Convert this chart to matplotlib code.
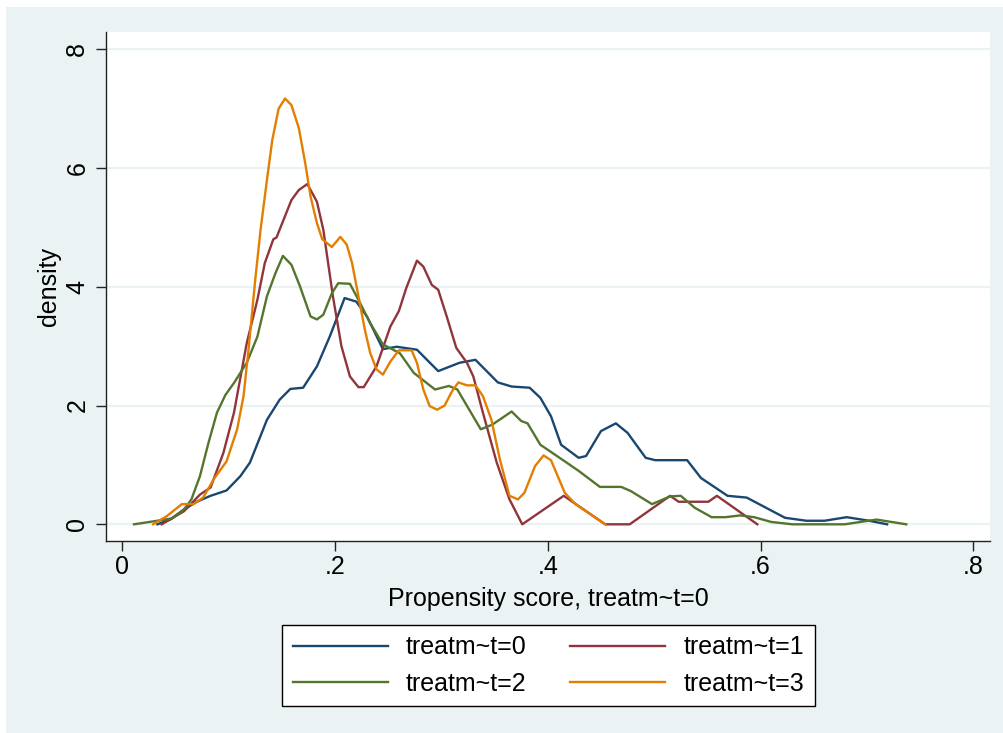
import matplotlib
matplotlib.use("Agg")
import matplotlib.pyplot as plt
from matplotlib.patches import Rectangle

# ---- data ----
x0 = [0.033,0.045,0.058,0.070,0.083,0.098,0.111,0.120,0.136,0.148,0.158,0.170,0.183,0.195,0.209,0.220,0.230,0.245,0.258,0.277,0.297,0.317,0.332,0.353,0.366,0.383,0.393,0.403,0.4125,0.429,0.436,0.450,0.464,0.475,0.492,0.501,0.531,0.544,0.569,0.587,0.623,0.643,0.660,0.681,0.702,0.719]
y0 = [0.0,0.08,0.25,0.38,0.48,0.57,0.81,1.04,1.76,2.10,2.28,2.30,2.66,3.16,3.81,3.75,3.50,2.95,2.99,2.94,2.58,2.72,2.77,2.39,2.32,2.30,2.13,1.82,1.34,1.12,1.15,1.57,1.70,1.54,1.12,1.08,1.08,0.78,0.48,0.45,0.11,0.06,0.06,0.12,0.06,0.0]

x1 = [0.037,0.058,0.073,0.083,0.095,0.105,0.117,0.127,0.134,0.142,0.145,0.159,0.166,0.174,0.183,0.189,0.198,0.206,0.214,0.222,0.227,0.239,0.252,0.260,0.267,0.277,0.283,0.291,0.297,0.305,0.314,0.324,0.330,0.339,0.352,0.364,0.376,0.415,0.454,0.477,0.515,0.523,0.551,0.559,0.597]
y1 = [0.0,0.22,0.50,0.62,1.20,1.88,3.05,3.78,4.40,4.80,4.83,5.46,5.63,5.73,5.43,4.96,3.84,3.00,2.49,2.31,2.31,2.66,3.33,3.59,3.98,4.44,4.34,4.03,3.95,3.50,2.97,2.72,2.49,1.88,1.04,0.42,0.0,0.48,0.0,0.0,0.48,0.38,0.38,0.48,0.0]

x2 = [0.011,0.033,0.047,0.058,0.065,0.073,0.081,0.089,0.097,0.105,0.117,0.127,0.136,0.144,0.151,0.159,0.167,0.177,0.183,0.189,0.197,0.203,0.214,0.222,0.233,0.245,0.261,0.274,0.294,0.307,0.315,0.337,0.348,0.366,0.375,0.381,0.393,0.416,0.429,0.449,0.469,0.478,0.498,0.515,0.525,0.538,0.554,0.567,0.581,0.594,0.610,0.630,0.679,0.709,0.737]
y2 = [0.0,0.06,0.10,0.25,0.42,0.81,1.37,1.88,2.18,2.38,2.72,3.16,3.84,4.23,4.52,4.37,4.01,3.50,3.45,3.53,3.89,4.06,4.05,3.78,3.39,3.03,2.88,2.55,2.27,2.33,2.27,1.60,1.68,1.90,1.74,1.70,1.34,1.06,0.90,0.63,0.63,0.56,0.34,0.47,0.48,0.28,0.12,0.12,0.15,0.12,0.04,0.0,0.0,0.08,0.0]

x3 = [0.029,0.042,0.056,0.067,0.076,0.086,0.098,0.108,0.114,0.119,0.125,0.130,0.136,0.141,0.147,0.153,0.159,0.166,0.172,0.177,0.183,0.188,0.197,0.205,0.211,0.216,0.222,0.228,0.233,0.239,0.245,0.252,0.260,0.266,0.272,0.277,0.283,0.289,0.296,0.303,0.310,0.316,0.324,0.332,0.339,0.347,0.355,0.364,0.372,0.378,0.388,0.396,0.403,0.416,0.426,0.454]
y3 = [0.0,0.14,0.34,0.34,0.45,0.76,1.06,1.60,2.16,3.00,4.12,4.96,5.80,6.47,7.00,7.17,7.06,6.67,6.08,5.52,5.07,4.80,4.67,4.84,4.71,4.40,3.84,3.28,2.89,2.61,2.52,2.74,2.93,2.93,2.93,2.72,2.27,1.99,1.93,2.00,2.24,2.39,2.34,2.34,2.16,1.76,1.09,0.48,0.42,0.53,0.98,1.16,1.08,0.53,0.34,0.0]

labels = ["treatm~t=0", "treatm~t=1", "treatm~t=2", "treatm~t=3"]
xticks = [0, 0.2, 0.4, 0.6, 0.8]
xticklabels = ["0", ".2", ".4", ".6", ".8"]
yticks = [0, 2, 4, 6, 8]
yticklabels = ["0", "2", "4", "6", "8"]
xlabel = "Propensity score, treatm~t=0"
ylabel = "density"

# ---- style ----
colors = ["#1a476f", "#90353b", "#55752f", "#e37e00"]
bg = "#eaf2f3"
plt.rcParams['font.family'] = ['Liberation Sans', 'DejaVu Sans']

W, H = 1004, 733
fig = plt.figure(figsize=(W/100, H/100), dpi=100, facecolor="white")
fig.patches.append(Rectangle((6/W, 0), 1, (H-7)/H, transform=fig.transFigure,
                             facecolor=bg, edgecolor="none", zorder=-10))

L, R, T, B = 106, 990, 32, 541
ax = fig.add_axes([L/W, (H-B)/H, (R-L)/W, (B-T)/H])
ax.set_facecolor("white")

series = [(x0, y0), (x1, y1), (x2, y2), (x3, y3)]
lines = []
for (xs, ys), c, lab in zip(series, colors, labels):
    ln, = ax.plot(xs, ys, color=c, lw=1.7, label=lab, solid_joinstyle="round")
    lines.append(ln)

ax.set_xlim(-0.0153, 0.8157)
ax.set_ylim(-0.281, 8.29)
ax.set_yticks(yticks)
ax.set_yticklabels(yticklabels, rotation=90, va="center")
ax.set_xticks(xticks)
ax.set_xticklabels(xticklabels)
for yv in yticks:
    ax.axhline(yv, color=bg, lw=1.6, zorder=0)

for s in ["top", "right"]:
    ax.spines[s].set_visible(False)
for s in ["left", "bottom"]:
    ax.spines[s].set_color("#222222")
    ax.spines[s].set_linewidth(1.0)
ax.tick_params(axis="both", direction="out", length=7, width=1.0, color="#222222",
               labelsize=18, labelcolor="black")
ax.tick_params(axis="x", pad=3)
ax.tick_params(axis="y", pad=5)

ax.set_xlabel(xlabel, fontsize=18, labelpad=6)
ax.set_ylabel(ylabel, fontsize=18, labelpad=3)

# row-wise order: (0, 1) on the first row, (2, 3) on the second
order = [0, 2, 1, 3]
leg = fig.legend(handles=[lines[i] for i in order], labels=[labels[i] for i in order],
                 ncol=2, fontsize=18,
                 loc="center", bbox_to_anchor=(548.5/W, 1 - 665.5/H),
                 frameon=True, fancybox=False, edgecolor="black", facecolor="white",
                 framealpha=1, handlelength=3.8, handletextpad=0.72,
                 columnspacing=1.75, labelspacing=0.5, borderpad=0.42)
leg.get_frame().set_linewidth(1.0)

fig.savefig("out.png", dpi=100, facecolor=fig.get_facecolor())
